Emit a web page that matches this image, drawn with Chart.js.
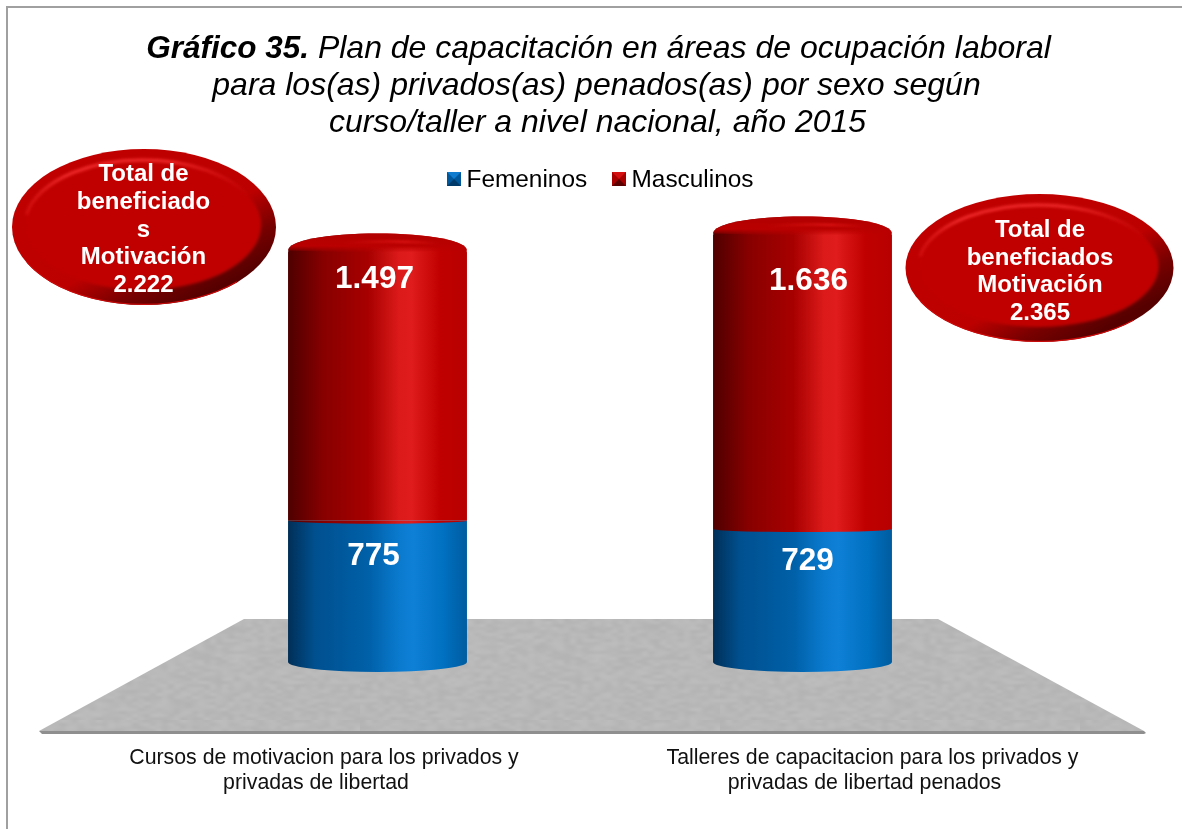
<!DOCTYPE html>
<html>
<head>
<meta charset="utf-8">
<title>Gráfico 35</title>
<style>
  html, body { margin: 0; padding: 0; background: #fff; }
  canvas { display: block; }
</style>
<script src="https://cdn.jsdelivr.net/npm/chart.js@4"></script>
</head>
<body>
<canvas id="myChart" width="1182" height="829"></canvas>
<script>
const categories = [
  ["Cursos de motivacion para los privados y", "privadas de libertad"],
  ["Talleres de capacitacion para los privados y", "privadas de libertad penados"]
];
const femeninos = [775, 729];
const masculinos = [1497, 1636];
const totales = [2222, 2365];
const yMax = 2500;

const fontName = '"Liberation Sans", Arial, sans-serif';
const blueStops = [[0, "#002f57"], [0.15, "#00508f"], [0.45, "#0060a8"], [0.62, "#0a7ace"], [0.7, "#0e80d6"], [0.87, "#0070c0"], [1, "#005c9f"]];
const redStops = [[0, "#4e0000"], [0.2, "#880000"], [0.45, "#a80000"], [0.62, "#dc1a1a"], [0.69, "#e01c1c"], [0.85, "#c00000"], [1, "#b80000"]];

function fmt(n) {
  return String(n).replace(/\B(?=(\d{3})+$)/g, ".");
}

function barBox(chart, i) {
  const w = chart.chartArea.width / categories.length * 0.421;
  const cx = chart.scales.x.getPixelForValue(i);
  return { cx: cx, w: w, left: cx - w / 2, right: cx + w / 2 };
}

function cylGradient(ctx, left, right, stops) {
  const g = ctx.createLinearGradient(left, 0, right, 0);
  stops.forEach(s => g.addColorStop(s[0], s[1]));
  return g;
}

function barFill(stops, fallback) {
  return function (c) {
    if (!c.chart.chartArea || c.dataIndex === undefined) return fallback;
    const b = barBox(c.chart, c.dataIndex);
    return cylGradient(c.chart.ctx, b.left, b.right, stops);
  };
}

// gray floor texture, fixed hash so every run looks the same
function floorPattern(ctx) {
  const small = document.createElement("canvas");
  small.width = 60; small.height = 60;
  const sc = small.getContext("2d");
  for (let y = 0; y < 60; y++) {
    for (let x = 0; x < 60; x++) {
      const h = Math.sin(x * 12.9898 + y * 78.233) * 43758.5453;
      const v = Math.round(179 + (h - Math.floor(h)) * 10);
      sc.fillStyle = "rgb(" + v + "," + v + "," + v + ")";
      sc.fillRect(x, y, 1, 1);
    }
  }
  const tile = document.createElement("canvas");
  tile.width = 360; tile.height = 180;
  const tc = tile.getContext("2d");
  tc.imageSmoothingEnabled = true;
  tc.imageSmoothingQuality = "high";
  tc.drawImage(small, 0, 0, 360, 180);
  return ctx.createPattern(tile, "repeat");
}

function capPath(ctx, b, y) {
  ctx.beginPath();
  ctx.moveTo(b.left, y + 3);
  ctx.bezierCurveTo(b.left, y - 7, b.cx - b.w * 0.28, y - 14, b.cx, y - 14);
  ctx.bezierCurveTo(b.cx + b.w * 0.28, y - 14, b.right, y - 7, b.right, y + 3);
  ctx.quadraticCurveTo(b.cx, y + 6, b.left, y + 3);
  ctx.closePath();
}

const decor = {
  id: "decor",
  beforeDraw(chart) {
    const ctx = chart.ctx;
    ctx.save();
    ctx.fillStyle = "#fff";
    ctx.fillRect(0, 0, chart.width, chart.height);
    // frame, only left and top show in the crop
    ctx.fillStyle = "#a0a0a0";
    ctx.fillRect(6, 6, chart.width - 6, 2);
    ctx.fillRect(6, 6, 2, chart.height - 6);
    // floor
    ctx.fillStyle = floorPattern(ctx);
    ctx.beginPath();
    ctx.moveTo(244, 619); ctx.lineTo(938, 619); ctx.lineTo(1144, 731); ctx.lineTo(39, 731);
    ctx.closePath();
    ctx.fill();
    ctx.fillStyle = "#8f8f8f";
    ctx.beginPath();
    ctx.moveTo(39, 731); ctx.lineTo(1144, 731); ctx.lineTo(1146, 733); ctx.lineTo(1144, 734); ctx.lineTo(42, 734);
    ctx.closePath();
    ctx.fill();
    ctx.restore();
  },
  afterDatasetsDraw(chart) {
    const ctx = chart.ctx;
    const metaF = chart.getDatasetMeta(0).data;
    const metaM = chart.getDatasetMeta(1).data;
    ctx.save();
    categories.forEach((cat, i) => {
      const b = barBox(chart, i);
      const y = metaM[i].y;
      // bottom of the blue cylinder
      ctx.fillStyle = cylGradient(ctx, b.left, b.right, blueStops);
      ctx.beginPath();
      ctx.ellipse(b.cx, metaF[i].base, b.w / 2, 10, 0, 0, Math.PI);
      ctx.fill();
      // seam between the two parts
      ctx.fillStyle = cylGradient(ctx, b.left, b.right, redStops);
      ctx.beginPath();
      ctx.ellipse(b.cx, metaF[i].y, b.w / 2, 3, 0, 0, Math.PI);
      ctx.fill();
      // top cap
      capPath(ctx, b, y);
      ctx.fill();
      const shade = ctx.createLinearGradient(0, y - 14, 0, y + 5);
      shade.addColorStop(0, "rgba(178,0,0,1)");
      shade.addColorStop(0.65, "rgba(186,0,0,1)");
      shade.addColorStop(1, "rgba(186,0,0,0)");
      ctx.fillStyle = shade;
      capPath(ctx, b, y);
      ctx.fill();
      // soft light band on the cap
      const band = ctx.createLinearGradient(b.left, 0, b.right, 0);
      band.addColorStop(0.3, "rgba(240,30,30,0)");
      band.addColorStop(0.65, "rgba(240,30,30,0.6)");
      band.addColorStop(0.85, "rgba(240,30,30,0)");
      ctx.save();
      ctx.filter = "blur(1px)";
      ctx.strokeStyle = band;
      ctx.lineWidth = 2.5;
      ctx.beginPath();
      ctx.ellipse(b.cx + 10, y + 30, b.w * 0.9, 36, 0, Math.PI * 1.3, Math.PI * 1.7);
      ctx.stroke();
      ctx.restore();
    });
    ctx.restore();
  },
  afterDraw(chart) {
    const ctx = chart.ctx;
    const metaF = chart.getDatasetMeta(0).data;
    const metaM = chart.getDatasetMeta(1).data;
    ctx.save();
    ctx.textBaseline = "alphabetic";

    // title
    ctx.fillStyle = "#000";
    ctx.textAlign = "left";
    const bold = "italic bold 31.5px " + fontName;
    const ital = "italic 32px " + fontName;
    const head = "Gráfico 35.";
    const rest = " Plan de capacitación en áreas de ocupación laboral";
    ctx.font = bold;
    const hw = ctx.measureText(head).width;
    ctx.font = ital;
    const rw = ctx.measureText(rest).width;
    const startX = 598.5 - (hw + rw) / 2;
    ctx.font = bold;
    ctx.fillText(head, startX, 58);
    ctx.font = ital;
    ctx.fillText(rest, startX + hw, 58);
    ctx.textAlign = "center";
    ctx.fillText("para los(as) privados(as) penados(as) por sexo según", 596.5, 95);
    ctx.fillText("curso/taller a nivel nacional, año 2015", 597.5, 132);

    // legend
    chart.data.datasets.forEach((ds, i) => {
      const x = [447, 612][i];
      const y = 172;
      const dark = ["#003a6b", "#5a0000"][i];
      const light = ["#0f7cd0", "#d41010"][i];
      const mid = ["#00589c", "#a80000"][i];
      ctx.fillStyle = mid;
      ctx.fillRect(x, y, 14, 14);
      ctx.fillStyle = light;
      ctx.beginPath(); ctx.moveTo(x, y); ctx.lineTo(x + 14, y); ctx.lineTo(x + 7, y + 7); ctx.closePath(); ctx.fill();
      ctx.fillStyle = dark;
      ctx.beginPath(); ctx.moveTo(x + 14, y + 14); ctx.lineTo(x, y + 14); ctx.lineTo(x + 7, y + 7); ctx.closePath(); ctx.fill();
      ctx.fillStyle = "#000";
      ctx.font = "24.4px " + fontName;
      ctx.textAlign = "left";
      ctx.fillText(ds.label, x + 19.5, 187);
    });

    // value labels
    ctx.fillStyle = "#fff";
    ctx.font = "bold 31.5px " + fontName;
    ctx.textAlign = "center";
    const nudges = [[-3, 40, -4, 44], [6, 59, 5, 41]];
    categories.forEach((cat, i) => {
      const n = nudges[i];
      ctx.fillText(fmt(masculinos[i]), metaM[i].x + n[0], metaM[i].y + n[1]);
      ctx.fillText(fmt(femeninos[i]), metaF[i].x + n[2], metaF[i].y + n[3]);
    });

    // category labels, they sit away from the bars in the original
    ctx.fillStyle = "#111";
    ctx.font = "21.3px " + fontName;
    const labelX = [324, 872.5];
    categories.forEach((lines, i) => {
      lines.forEach((t, j) => ctx.fillText(t, labelX[i] - j * 8, 764 + j * 25));
    });

    // callouts
    drawOval(ctx, 144, 227, 132, 78);
    drawOval(ctx, 1039.5, 268, 134, 74);
    ctx.fillStyle = "#fff";
    ctx.font = "bold 24px " + fontName;
    ["Total de", "beneficiado", "s", "Motivación", fmt(totales[0])].forEach((t, j) => {
      ctx.fillText(t, 143.5, 181 + j * 27.8);
    });
    ["Total de", "beneficiados", "Motivación", fmt(totales[1])].forEach((t, j) => {
      ctx.fillText(t, 1040, 237 + j * 27.7);
    });
    ctx.restore();
  }
};

function drawOval(ctx, cx, cy, rx, ry) {
  ctx.save();
  const rim = ctx.createLinearGradient(cx - rx * 0.3, cy - ry, cx + rx * 0.3, cy + ry);
  rim.addColorStop(0, "#c00000");
  rim.addColorStop(0.6, "#bc0000");
  rim.addColorStop(0.82, "#780000");
  rim.addColorStop(1, "#560000");
  ctx.fillStyle = rim;
  ctx.beginPath();
  ctx.ellipse(cx, cy, rx, ry, 0, 0, Math.PI * 2);
  ctx.fill();
  // thin lighter edge underneath
  ctx.strokeStyle = "#cc0a0a";
  ctx.lineWidth = 1.2;
  ctx.beginPath();
  ctx.ellipse(cx, cy, rx - 0.6, ry - 0.6, 0, Math.PI * 0.25, Math.PI * 0.85);
  ctx.stroke();
  // flat face with a soft edge
  ctx.filter = "blur(1.5px)";
  ctx.fillStyle = "#c00000";
  ctx.beginPath();
  ctx.ellipse(cx - 1, cy - 2, rx - 14, ry - 13, 0, 0, Math.PI * 2);
  ctx.fill();
  // highlight ring top left
  const glow = ctx.createLinearGradient(cx - rx, cy, cx + rx, cy);
  glow.addColorStop(0, "rgba(240,40,40,0.15)");
  glow.addColorStop(0.2, "rgba(250,50,50,0.9)");
  glow.addColorStop(0.6, "rgba(250,50,50,0.85)");
  glow.addColorStop(0.9, "rgba(250,50,50,0)");
  ctx.strokeStyle = glow;
  ctx.lineWidth = 3;
  ctx.beginPath();
  ctx.ellipse(cx - 1, cy - 2, rx - 14, ry - 13, 0, Math.PI * 1.05, Math.PI * 1.9);
  ctx.stroke();
  ctx.restore();
}

new Chart(document.getElementById("myChart").getContext("2d"), {
  type: "bar",
  data: {
    labels: categories,
    datasets: [
      { label: "Femeninos", data: femeninos, backgroundColor: barFill(blueStops, "#0068b4") },
      {
        label: "Masculinos",
        data: masculinos,
        backgroundColor: barFill(redStops, "#c00000"),
        borderSkipped: false,
        borderRadius: { topLeft: 5, topRight: 5, bottomLeft: 0, bottomRight: 0 }
      }
    ]
  },
  options: {
    responsive: false,
    animation: false,
    layout: { padding: { left: 165, right: 167, top: 206, bottom: 167 } },
    datasets: { bar: { categoryPercentage: 1, barPercentage: 0.421, borderWidth: 0 } },
    plugins: { legend: { display: false }, tooltip: { enabled: false } },
    scales: {
      x: { stacked: true, display: false },
      y: { stacked: true, display: false, min: 0, max: yMax }
    }
  },
  plugins: [decor]
});
</script>
</body>
</html>
